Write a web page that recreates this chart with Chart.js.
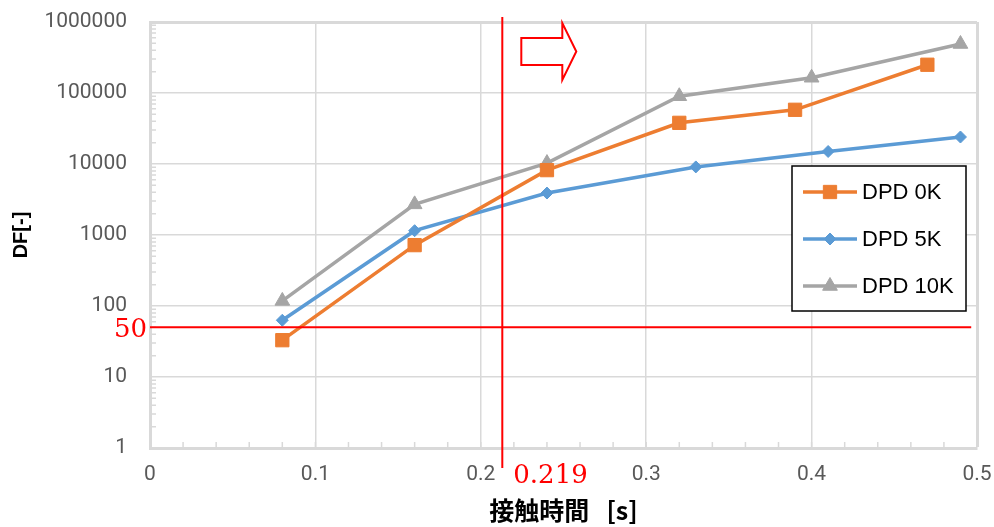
<!DOCTYPE html>
<html>
<head>
<meta charset="utf-8">
<script src="https://cdn.jsdelivr.net/npm/chart.js@4"></script>
<style>
  html, body { margin: 0; background: #fff; }
  #wrap { width: 994px; height: 527px; }
</style>
</head>
<body>
<div id="wrap"><canvas id="c"></canvas></div>
<script>
// values
const seriesNames = ['DPD 0K', 'DPD 5K', 'DPD 10K'];
const dpd0kX = [0.08, 0.16, 0.24, 0.32, 0.39, 0.47];
const dpd0kY = [33, 720, 8200, 38000, 58000, 250000];
const dpd5kX = [0.08, 0.16, 0.24, 0.33, 0.41, 0.49];
const dpd5kY = [63, 1150, 3900, 9100, 15000, 24000];
const dpd10kX = [0.08, 0.16, 0.24, 0.32, 0.40, 0.49];
const dpd10kY = [118, 2700, 10300, 90000, 164000, 490000];

const xTicks = [0, 0.1, 0.2, 0.3, 0.4, 0.5];
const yTicks = [1, 10, 100, 1000, 10000, 100000, 1000000];

// red guide lines
const limitDF = 50;
const limitDFLabel = '50';
const limitDFEnd = 0.4965;
const limitTime = 0.213;
const limitTimeLabel = '0.219';

const GRID = '#d9d9d9';
const RED = '#ff0000';

const toPoints = (xs, ys) => xs.map((v, i) => ({ x: v, y: ys[i] }));

/**
 * Draws minor ticks, the red guides, the arrow and the boxed legend.
 */
const overlay = {
    id: 'overlay',
    afterDatasetsDraw(chart) {
        const { ctx, chartArea: a, scales: { x, y } } = chart;
        ctx.save();

        // minor ticks inside the plot
        ctx.strokeStyle = GRID;
        ctx.lineWidth = 1.5;
        ctx.beginPath();
        for (let d = 1; d < 1e6; d *= 10) {
            for (let m = 2; m < 10; m++) {
                const py = y.getPixelForValue(d * m);
                ctx.moveTo(a.left, py);
                ctx.lineTo(a.left + 6, py);
            }
        }
        for (let i = 1; i < 25; i++) {
            const px = x.getPixelForValue(i * 0.02);
            ctx.moveTo(px, a.bottom);
            ctx.lineTo(px, a.bottom - 6);
        }
        ctx.stroke();

        // red guide lines
        const hy = y.getPixelForValue(limitDF);
        const vx = x.getPixelForValue(limitTime);
        ctx.strokeStyle = RED;
        ctx.lineWidth = 2;
        ctx.beginPath();
        ctx.moveTo(a.left, hy);
        ctx.lineTo(x.getPixelForValue(limitDFEnd), hy);
        ctx.moveTo(vx, a.top - 5);
        ctx.lineTo(vx, a.bottom + 20);
        ctx.stroke();

        ctx.fillStyle = RED;
        ctx.font = '26px "DejaVu Serif"';
        ctx.textBaseline = 'middle';
        ctx.textAlign = 'right';
        ctx.fillText(limitDFLabel, a.left - 3, hy + 3);
        ctx.textAlign = 'left';
        ctx.fillText(limitTimeLabel, vx + 11, a.bottom + 28);

        // hollow arrow pointing right
        const ax = vx + 19, ay = a.top;
        ctx.beginPath();
        ctx.moveTo(ax, ay + 16);
        ctx.lineTo(ax + 41, ay + 16);
        ctx.lineTo(ax + 41, ay + 1);
        ctx.lineTo(ax + 55, ay + 29.5);
        ctx.lineTo(ax + 41, ay + 58);
        ctx.lineTo(ax + 41, ay + 43);
        ctx.lineTo(ax, ay + 43);
        ctx.closePath();
        ctx.lineWidth = 2;
        ctx.stroke();

        // legend box
        const lx = a.right - 185, ly = a.top + 144, lw = 174, lh = 145;
        ctx.fillStyle = '#fff';
        ctx.fillRect(lx, ly, lw, lh);
        ctx.strokeStyle = '#000';
        ctx.lineWidth = 1.5;
        ctx.strokeRect(lx, ly, lw, lh);
        ctx.font = '22px "Liberation Sans"';
        ctx.textAlign = 'left';
        ctx.textBaseline = 'middle';
        chart.data.datasets.forEach((ds, i) => {
            const cy = ly + 26 + i * 47;
            ctx.strokeStyle = ds.borderColor;
            ctx.lineWidth = 3.5;
            ctx.beginPath();
            ctx.moveTo(lx + 11, cy);
            ctx.lineTo(lx + 65, cy);
            ctx.stroke();
            ctx.fillStyle = ds.pointBackgroundColor;
            ctx.strokeStyle = ds.borderColor;
            ctx.lineWidth = 1;
            Chart.helpers.drawPoint(ctx, {
                pointStyle: ds.pointStyle, radius: ds.pointRadius, rotation: 0, borderWidth: 1,
            }, lx + 38, cy);
            ctx.fillStyle = '#000';
            ctx.fillText(ds.label, lx + 70, cy + 1);
        });

        ctx.restore();
    },
};

function makeSeries(label, xs, ys, color, style, radius) {
    return {
        label,
        data: toPoints(xs, ys),
        borderColor: color,
        backgroundColor: color,
        pointBackgroundColor: color,
        pointBorderColor: color,
        borderWidth: 3.5,
        pointStyle: style,
        pointRadius: radius,
        pointHoverRadius: radius,
        pointBorderWidth: 1,
        tension: 0,
    };
}

const tickFont = { family: 'Roboto', size: 21 };

new Chart(document.getElementById('c'), {
    type: 'line',
    data: {
        datasets: [
            makeSeries(seriesNames[0], dpd0kX, dpd0kY, '#ED7D31', 'rect', 9.4),
            makeSeries(seriesNames[1], dpd5kX, dpd5kY, '#5B9BD5', 'rectRot', 6),
            makeSeries(seriesNames[2], dpd10kX, dpd10kY, '#A5A5A5', 'triangle', 8.5),
        ],
    },
    options: {
        responsive: true,
        maintainAspectRatio: false,
        animation: false,
        layout: { padding: { left: 0, right: 17, top: 22, bottom: 0 } },
        plugins: {
            legend: { display: false },
            tooltip: { enabled: false },
        },
        scales: {
            x: {
                type: 'linear',
                min: 0,
                max: 0.5,
                afterBuildTicks: s => { s.ticks = xTicks.map(v => ({ value: v })); },
                afterFit: s => { s.height = 79; s.paddingLeft = 0; s.paddingRight = 0; },
                grid: {
                    color: GRID,
                    lineWidth: c => (c.tick && c.tick.value === 0.5 ? 3 : 1.5),
                    drawTicks: false,
                },
                border: { color: GRID, width: 3 },
                ticks: {
                    color: '#595959',
                    font: tickFont,
                    padding: 14,
                    maxRotation: 0,
                    callback: v => String(v),
                },
                title: {
                    display: true,
                    text: '接触時間   [s]',
                    color: '#000',
                    font: { family: 'Noto Sans CJK JP', size: 25, weight: 'bold' },
                    padding: { top: 0, bottom: 2 },
                },
            },
            y: {
                type: 'logarithmic',
                min: 1,
                max: 1000000,
                afterBuildTicks: s => { s.ticks = yTicks.map(v => ({ value: v, major: true })); },
                afterFit: s => { s.width = 150; s.paddingTop = 0; s.paddingBottom = 0; },
                grid: {
                    color: GRID,
                    lineWidth: c => (c.tick && c.tick.value === 1000000 ? 3 : 1.5),
                    drawTicks: false,
                },
                border: { color: GRID, width: 3 },
                ticks: {
                    color: '#595959',
                    font: tickFont,
                    padding: 23,
                    callback: v => String(v),
                },
                title: {
                    display: true,
                    text: 'DF[-]',
                    color: '#000',
                    font: { family: 'Liberation Sans', size: 20, weight: 'bold' },
                    padding: { top: 9, bottom: 0 },
                },
            },
        },
    },
    plugins: [overlay],
});
</script>
</body>
</html>
